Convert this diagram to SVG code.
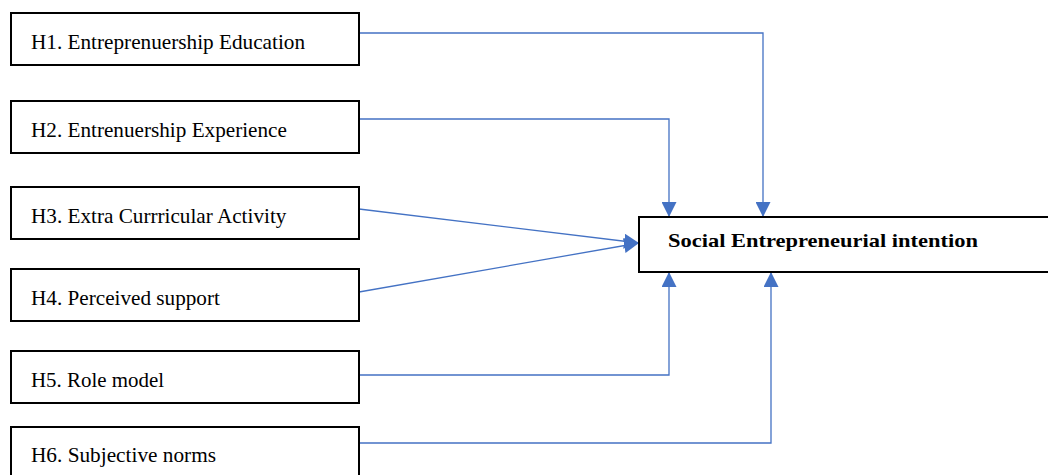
<svg xmlns="http://www.w3.org/2000/svg" width="1048" height="475" viewBox="0 0 1048 475">
<style>
.box{fill:#fff;stroke:#000;stroke-width:2}
.t{font-family:"Liberation Serif","Times New Roman",serif;font-size:21.2px;fill:#000}
.tb{font-family:"Liberation Serif","Times New Roman",serif;font-size:19.5px;font-weight:bold;fill:#000}
.c{fill:none;stroke:#4472C4;stroke-width:1.3}
</style>
<defs>
<marker id="ah" viewBox="0 0 10 10" refX="10" refY="5" markerWidth="15" markerHeight="15" markerUnits="userSpaceOnUse" orient="auto">
<path d="M0,0 L10,5 L0,10 z" fill="#4472C4"/>
</marker>
</defs>
<rect width="1048" height="475" fill="#fff"/>
<g id="connectors">
<path class="c" d="M359,33 H763 V217" marker-end="url(#ah)"/>
<path class="c" d="M359,119 H669 V217" marker-end="url(#ah)"/>
<path class="c" d="M359,209 L639,243" marker-end="url(#ah)"/>
<path class="c" d="M359,292 L639,243" marker-end="url(#ah)"/>
<path class="c" d="M359,375 H669 V272" marker-end="url(#ah)"/>
<path class="c" d="M359,443 H771 V272" marker-end="url(#ah)"/>
</g>
<g id="h1"><rect class="box" x="11" y="13" width="348" height="52"/><text class="t" x="31" y="49" textLength="274" lengthAdjust="spacingAndGlyphs">H1. Entreprenuership Education</text></g>
<g id="h2"><rect class="box" x="11" y="101" width="348" height="52"/><text class="t" x="31" y="137">H2. Entrenuership Experience</text></g>
<g id="h3"><rect class="box" x="11" y="187" width="348" height="52"/><text class="t" x="31" y="223">H3. Extra Currricular Activity</text></g>
<g id="h4"><rect class="box" x="11" y="269" width="348" height="52"/><text class="t" x="31" y="305">H4. Perceived support</text></g>
<g id="h5"><rect class="box" x="11" y="351" width="348" height="52"/><text class="t" x="31" y="387" textLength="133" lengthAdjust="spacingAndGlyphs">H5. Role model</text></g>
<g id="h6"><rect class="box" x="11" y="427" width="348" height="60"/><text class="t" x="31" y="462" textLength="185" lengthAdjust="spacingAndGlyphs">H6. Subjective norms</text></g>
<g id="target"><rect class="box" x="639" y="217" width="420" height="55"/><text class="tb" x="668" y="247" textLength="310" lengthAdjust="spacingAndGlyphs">Social Entrepreneurial intention</text></g>
</svg>
